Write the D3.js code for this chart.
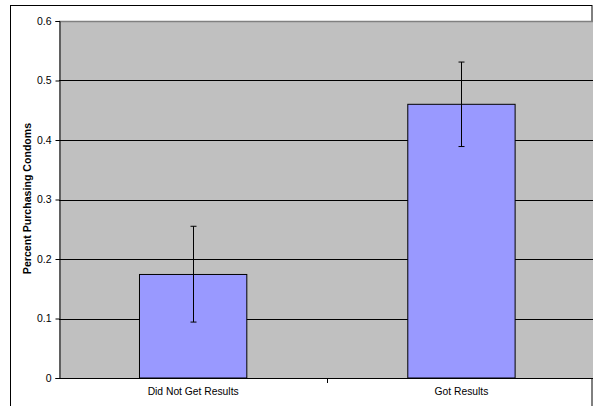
<!DOCTYPE html>
<html><head><meta charset="utf-8">
<script src="https://cdn.jsdelivr.net/npm/d3@7"></script>
<style>body{margin:0;background:#fff;}svg{display:block;font-family:Arial,"Liberation Sans",sans-serif;}</style>
</head><body>
<svg id="c" width="593" height="406"></svg>
<script>
const categories = ["Did Not Get Results", "Got Results"];
const values = [0.174, 0.46];
const errLow = [0.094, 0.389];
const errHigh = [0.255, 0.531];
const yTicks = [0, 0.1, 0.2, 0.3, 0.4, 0.5, 0.6];
const yLabel = "Percent Purchasing Condoms";

const svg = d3.select("#c");
const L = 59, T = 21, B = 378, R = 595.6;

// outer frame
svg.append("rect").attr("x", 10.5).attr("y", 5.5).attr("width", 581.5).attr("height", 420)
  .attr("fill", "#fff").attr("stroke", "#000").attr("stroke-width", 1);

const x = d3.scaleBand().domain(categories).range([L, R]).paddingInner(0).paddingOuter(0);
const y = d3.scaleLinear().domain([0, 0.6]).range([B, T]);

svg.append("rect").attr("x", L).attr("y", T).attr("width", R - L).attr("height", B - T).attr("fill", "#c0c0c0");

// gridlines
svg.selectAll("line.grid").data(yTicks.filter(d => d > 0 && d < 0.6)).join("line")
  .attr("x1", L).attr("x2", R).attr("y1", d => Math.round(y(d)) + 0.5).attr("y2", d => Math.round(y(d)) + 0.5)
  .attr("stroke", "#000").attr("stroke-width", 1);
svg.append("line").attr("x1", L).attr("x2", R).attr("y1", Math.round(y(0.6)) + 0.5).attr("y2", Math.round(y(0.6)) + 0.5)
  .attr("stroke", "#808080").attr("stroke-width", 1.5);

// bars
const bw = x.bandwidth() * 0.4;
svg.selectAll("rect.bar").data(categories).join("rect")
  .attr("x", d => x(d) + (x.bandwidth() - bw) / 2)
  .attr("y", (d, i) => y(values[i]))
  .attr("width", bw)
  .attr("height", (d, i) => B - y(values[i]))
  .attr("fill", "#9999ff").attr("stroke", "#000").attr("stroke-width", 1);

// error bars
const eb = svg.append("g").attr("stroke", "#000").attr("stroke-width", 1);
categories.forEach((c, i) => {
  const cx = Math.round(x(c) + x.bandwidth() / 2) + 0.5;
  eb.append("line").attr("x1", cx).attr("x2", cx).attr("y1", y(errHigh[i])).attr("y2", y(errLow[i]));
  [errHigh[i], errLow[i]].forEach(v => {
    eb.append("line").attr("x1", cx - 3).attr("x2", cx + 3).attr("y1", y(v)).attr("y2", y(v));
  });
});

// y axis
const ya = svg.append("g").attr("transform", `translate(${L + 0.5},0)`)
  .call(d3.axisLeft(y).tickValues(yTicks).tickSize(4).tickPadding(4).tickFormat(d => d === 0 ? "0" : d3.format(".1f")(d)));
ya.select(".domain").attr("stroke", "#000");
ya.selectAll("text").attr("font-size", "10.5px").attr("fill", "#000").attr("font-family", "Arial, 'Liberation Sans', sans-serif");

// x axis
const xa = svg.append("g").attr("transform", `translate(0,${B + 0.5})`)
  .call(d3.axisBottom(x).tickSize(0).tickPadding(9));
xa.select(".domain").attr("stroke", "#000").attr("d", `M${L},0H${R}`);
xa.selectAll("text").attr("font-size", "10.3px").attr("fill", "#000").attr("font-family", "Arial, 'Liberation Sans', sans-serif");
// category boundary ticks
svg.selectAll("line.xt").data([x(categories[1])]).join("line")
  .attr("x1", d => Math.round(d) + 0.5).attr("x2", d => Math.round(d) + 0.5)
  .attr("y1", B).attr("y2", B + 5).attr("stroke", "#000");

svg.append("text").attr("transform", `translate(30.5,${(T + B) / 2 - 1}) rotate(-90)`)
  .attr("text-anchor", "middle").attr("font-size", "10.6px").attr("font-weight", "bold").text(yLabel);
</script>
</body></html>
